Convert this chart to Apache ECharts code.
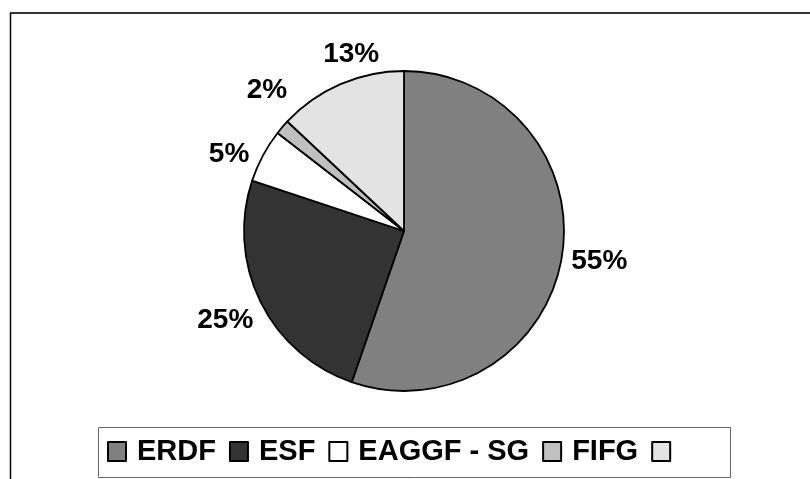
<!DOCTYPE html>
<html>
<head>
<meta charset="utf-8">
<style>
  html, body { margin: 0; padding: 0; background: #ffffff; }
  #chart { width: 810px; height: 479px; }
</style>
<script src="https://cdn.jsdelivr.net/npm/echarts@6/dist/echarts.min.js"></script>
</head>
<body>
<div id="chart"></div>
<script>
// ---- Data ----
const categories = ['ERDF', 'ESF', 'EAGGF - SG', 'FIFG', ' '];
const shares = [55.3, 24.8, 5.4, 1.5, 13.0];

// ---- Styling (kept apart from the data) ----
const sliceColors = ['#808080', '#333333', '#ffffff', '#c0c0c0', '#e3e3e3'];
// small nudges mimicking the original spreadsheet's label collision avoidance
const labelNudges = [[2, -2], [-3, 3], [-2, 16], [12, -13], [25, 3]];

const pieData = categories.map((name, i) => ({
  name: name,
  value: shares[i],
  itemStyle: { color: sliceColors[i] }
}));
const labelData = categories.map((name, i) => ({
  name: name,
  value: shares[i],
  label: { offset: labelNudges[i] }
}));

const chart = echarts.init(document.getElementById('chart'), null, { renderer: 'canvas' });

const option = {
  backgroundColor: '#ffffff',
  animation: false,
  graphic: [
    { type: 'line', shape: { x1: 10, y1: 13, x2: 810, y2: 13 }, style: { stroke: '#333333', lineWidth: 2 } },
    { type: 'line', shape: { x1: 10.5, y1: 13, x2: 10.5, y2: 479 }, style: { stroke: '#000000', lineWidth: 1.5 } },
    { type: 'rect', shape: { x: 98.5, y: 427.5, width: 632, height: 50 }, style: { fill: 'none', stroke: '#666666', lineWidth: 1 } }
  ],
  legend: {
    left: 107,
    top: 437,
    padding: 0,
    itemGap: 13,
    itemWidth: 18,
    itemHeight: 19,
    icon: 'rect',
    selectedMode: false,
    itemStyle: { borderColor: '#000000', borderWidth: 2 },
    textStyle: {
      fontFamily: 'Liberation Sans, Arial, sans-serif',
      fontWeight: 'bold',
      fontSize: 29,
      color: '#000000',
      padding: [0, 0, 0, 6]
    },
    data: categories
  },
  series: [
    {
      type: 'pie',
      center: [404, 231],
      radius: 160,
      startAngle: 90,
      clockwise: true,
      silent: true,
      label: { show: false },
      labelLine: { show: false },
      itemStyle: { borderColor: '#000000', borderWidth: 1.8 },
      data: pieData
    },
    {
      type: 'pie',
      center: [404, 231],
      radius: [188, 198],
      startAngle: 90,
      clockwise: true,
      silent: true,
      itemStyle: { color: 'rgba(0,0,0,0)', borderWidth: 0 },
      label: {
        show: true,
        position: 'inside',
        formatter: p => Math.round(p.percent) + '%',
        fontFamily: 'Liberation Sans, Arial, sans-serif',
        fontWeight: 'bold',
        fontSize: 28,
        color: '#000000'
      },
      labelLine: { show: false },
      data: labelData
    }
  ]
};
chart.setOption(option);
</script>
</body>
</html>
